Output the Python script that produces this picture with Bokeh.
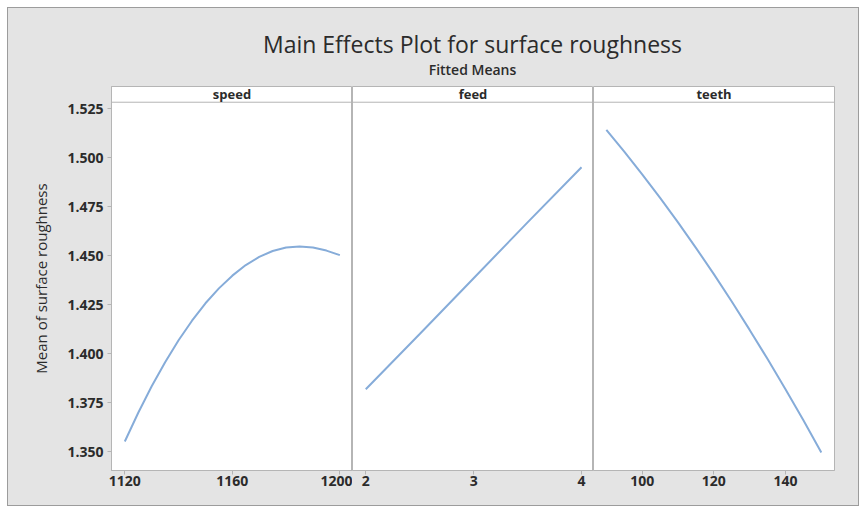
from bokeh.plotting import figure
from bokeh.models import Range1d, FixedTicker, NumeralTickFormatter, Span, Div, Label
from bokeh.layouts import row, column
from bokeh.embed import file_html
from bokeh.resources import INLINE

# ---- text ----
title = "Main Effects Plot for surface roughness"
subtitle = "Fitted Means"
y_label = "Mean of surface roughness"
factor_names = ["speed", "feed", "teeth"]

# ---- data ----
speed_x = [1120, 1125, 1130, 1135, 1140, 1145, 1150, 1155, 1160, 1165, 1170,
           1175, 1180, 1185, 1190, 1195, 1200]
speed_y = [1.3551, 1.3698, 1.3833, 1.3956, 1.4068, 1.4168, 1.4257, 1.4333, 1.4398,
           1.4452, 1.4494, 1.4524, 1.4542, 1.4547, 1.4542, 1.4526, 1.4503]

feed_x = [2, 2.5, 3, 3.5, 4]
feed_y = [1.3818, 1.410, 1.4385, 1.467, 1.4952]

teeth_x = [90, 95, 100, 105, 110, 115, 120, 125, 130, 135, 140, 145, 150]
teeth_y = [1.5142, 1.5031, 1.4915, 1.4795, 1.4670, 1.4540, 1.4406, 1.4266, 1.4121,
           1.3972, 1.3818, 1.3660, 1.3495]

speed_ticks = [1120, 1160, 1200]
feed_ticks = [2, 3, 4]
teeth_ticks = [100, 120, 140]
y_ticks = [1.350, 1.375, 1.400, 1.425, 1.450, 1.475, 1.500, 1.525]

# ---- styling / layout constants ----
BG = "#e4e4e4"
FRAME_GRAY = "#b5b5b5"
LINE_COLOR = "#86acd9"
TEXT_COLOR = "#2b2b2b"
FONT = "Open Sans"
Y_DATA_TOP = 1.52837
Y_BOTTOM = 1.3403
Y_STRIP_TOP = 1.5364

x_ranges = [(1115.05, 1204.7), (1.877, 4.111), (86.41, 153.68)]
series = [(speed_x, speed_y, speed_ticks), (feed_x, feed_y, feed_ticks),
          (teeth_x, teeth_y, teeth_ticks)]

panels = []
for i, (name, (xs, ys, ticks), xr) in enumerate(zip(factor_names, series, x_ranges)):
    first = i == 0
    last = i == len(factor_names) - 1
    p = figure(frame_width=241, frame_height=384,
               x_range=Range1d(*xr), y_range=Range1d(Y_BOTTOM, Y_STRIP_TOP),
               output_backend="svg", toolbar_location=None,
               min_border_left=103 if first else 0,
               min_border_right=24 if last else 0,
               min_border_top=0, min_border_bottom=35,
               y_axis_location="left" if first else None)
    p.background_fill_color = "white"
    p.border_fill_color = BG
    p.outline_line_color = FRAME_GRAY
    p.outline_line_width = 1
    p.grid.visible = False

    p.line(xs, ys, line_color=LINE_COLOR, line_width=2)

    # strip header
    p.add_layout(Span(location=Y_DATA_TOP, dimension="width",
                      line_color=FRAME_GRAY, line_width=1))
    p.add_layout(Label(x=(xr[0] + xr[1]) / 2, y=(Y_DATA_TOP + Y_STRIP_TOP) / 2,
                       text=name, text_align="center", text_baseline="middle",
                       text_font=FONT, text_font_size="13px",
                       text_font_style="bold", text_color=TEXT_COLOR))

    xa = p.xaxis[0]
    xa.ticker = FixedTicker(ticks=ticks)
    xa.minor_tick_line_color = None
    xa.major_tick_in = 0
    xa.major_tick_out = 4
    xa.major_tick_line_color = FRAME_GRAY
    xa.axis_line_color = FRAME_GRAY
    xa.major_label_standoff = 1
    xa.major_label_text_font = FONT
    xa.major_label_text_font_size = "14px"
    xa.major_label_text_font_style = "bold"
    xa.major_label_text_color = TEXT_COLOR

    if first:
        ya = p.yaxis[0]
        ya.ticker = FixedTicker(ticks=y_ticks)
        ya.formatter = NumeralTickFormatter(format="0.000")
        ya.minor_tick_line_color = None
        ya.major_tick_in = 0
        ya.major_tick_out = 4
        ya.major_tick_line_color = FRAME_GRAY
        ya.axis_line_color = FRAME_GRAY
        ya.major_label_standoff = 4
        ya.major_label_text_font = FONT
        ya.major_label_text_font_size = "14px"
        ya.major_label_text_font_style = "bold"
        ya.major_label_text_color = TEXT_COLOR
        ya.axis_label = y_label
        ya.axis_label_text_font = FONT
        ya.axis_label_text_font_size = "15px"
        ya.axis_label_text_font_style = "normal"
        ya.axis_label_text_color = TEXT_COLOR
        ya.axis_label_standoff = 13
    panels.append(p)

header_html = (
    f'<div style="width:723px;margin-left:103px;text-align:center;'
    f'font-family:\'{FONT}\';color:{TEXT_COLOR};">'
    f'<div style="font-size:23px;line-height:normal;padding-top:20px;">{title}</div>'
    f'<div style="font-size:14px;line-height:normal;font-weight:600;">{subtitle}</div>'
    f'</div>'
)
header = Div(text=header_html, width=850, height=78, margin=0,
             styles={"background-color": BG})

layout = column(header, row(*panels, spacing=0), spacing=0, margin=(8, 0, 0, 8),
                styles={"background-color": BG, "outline": "1px solid #9c9c9c"})

open("out.html", "w").write(file_html(layout, INLINE))
